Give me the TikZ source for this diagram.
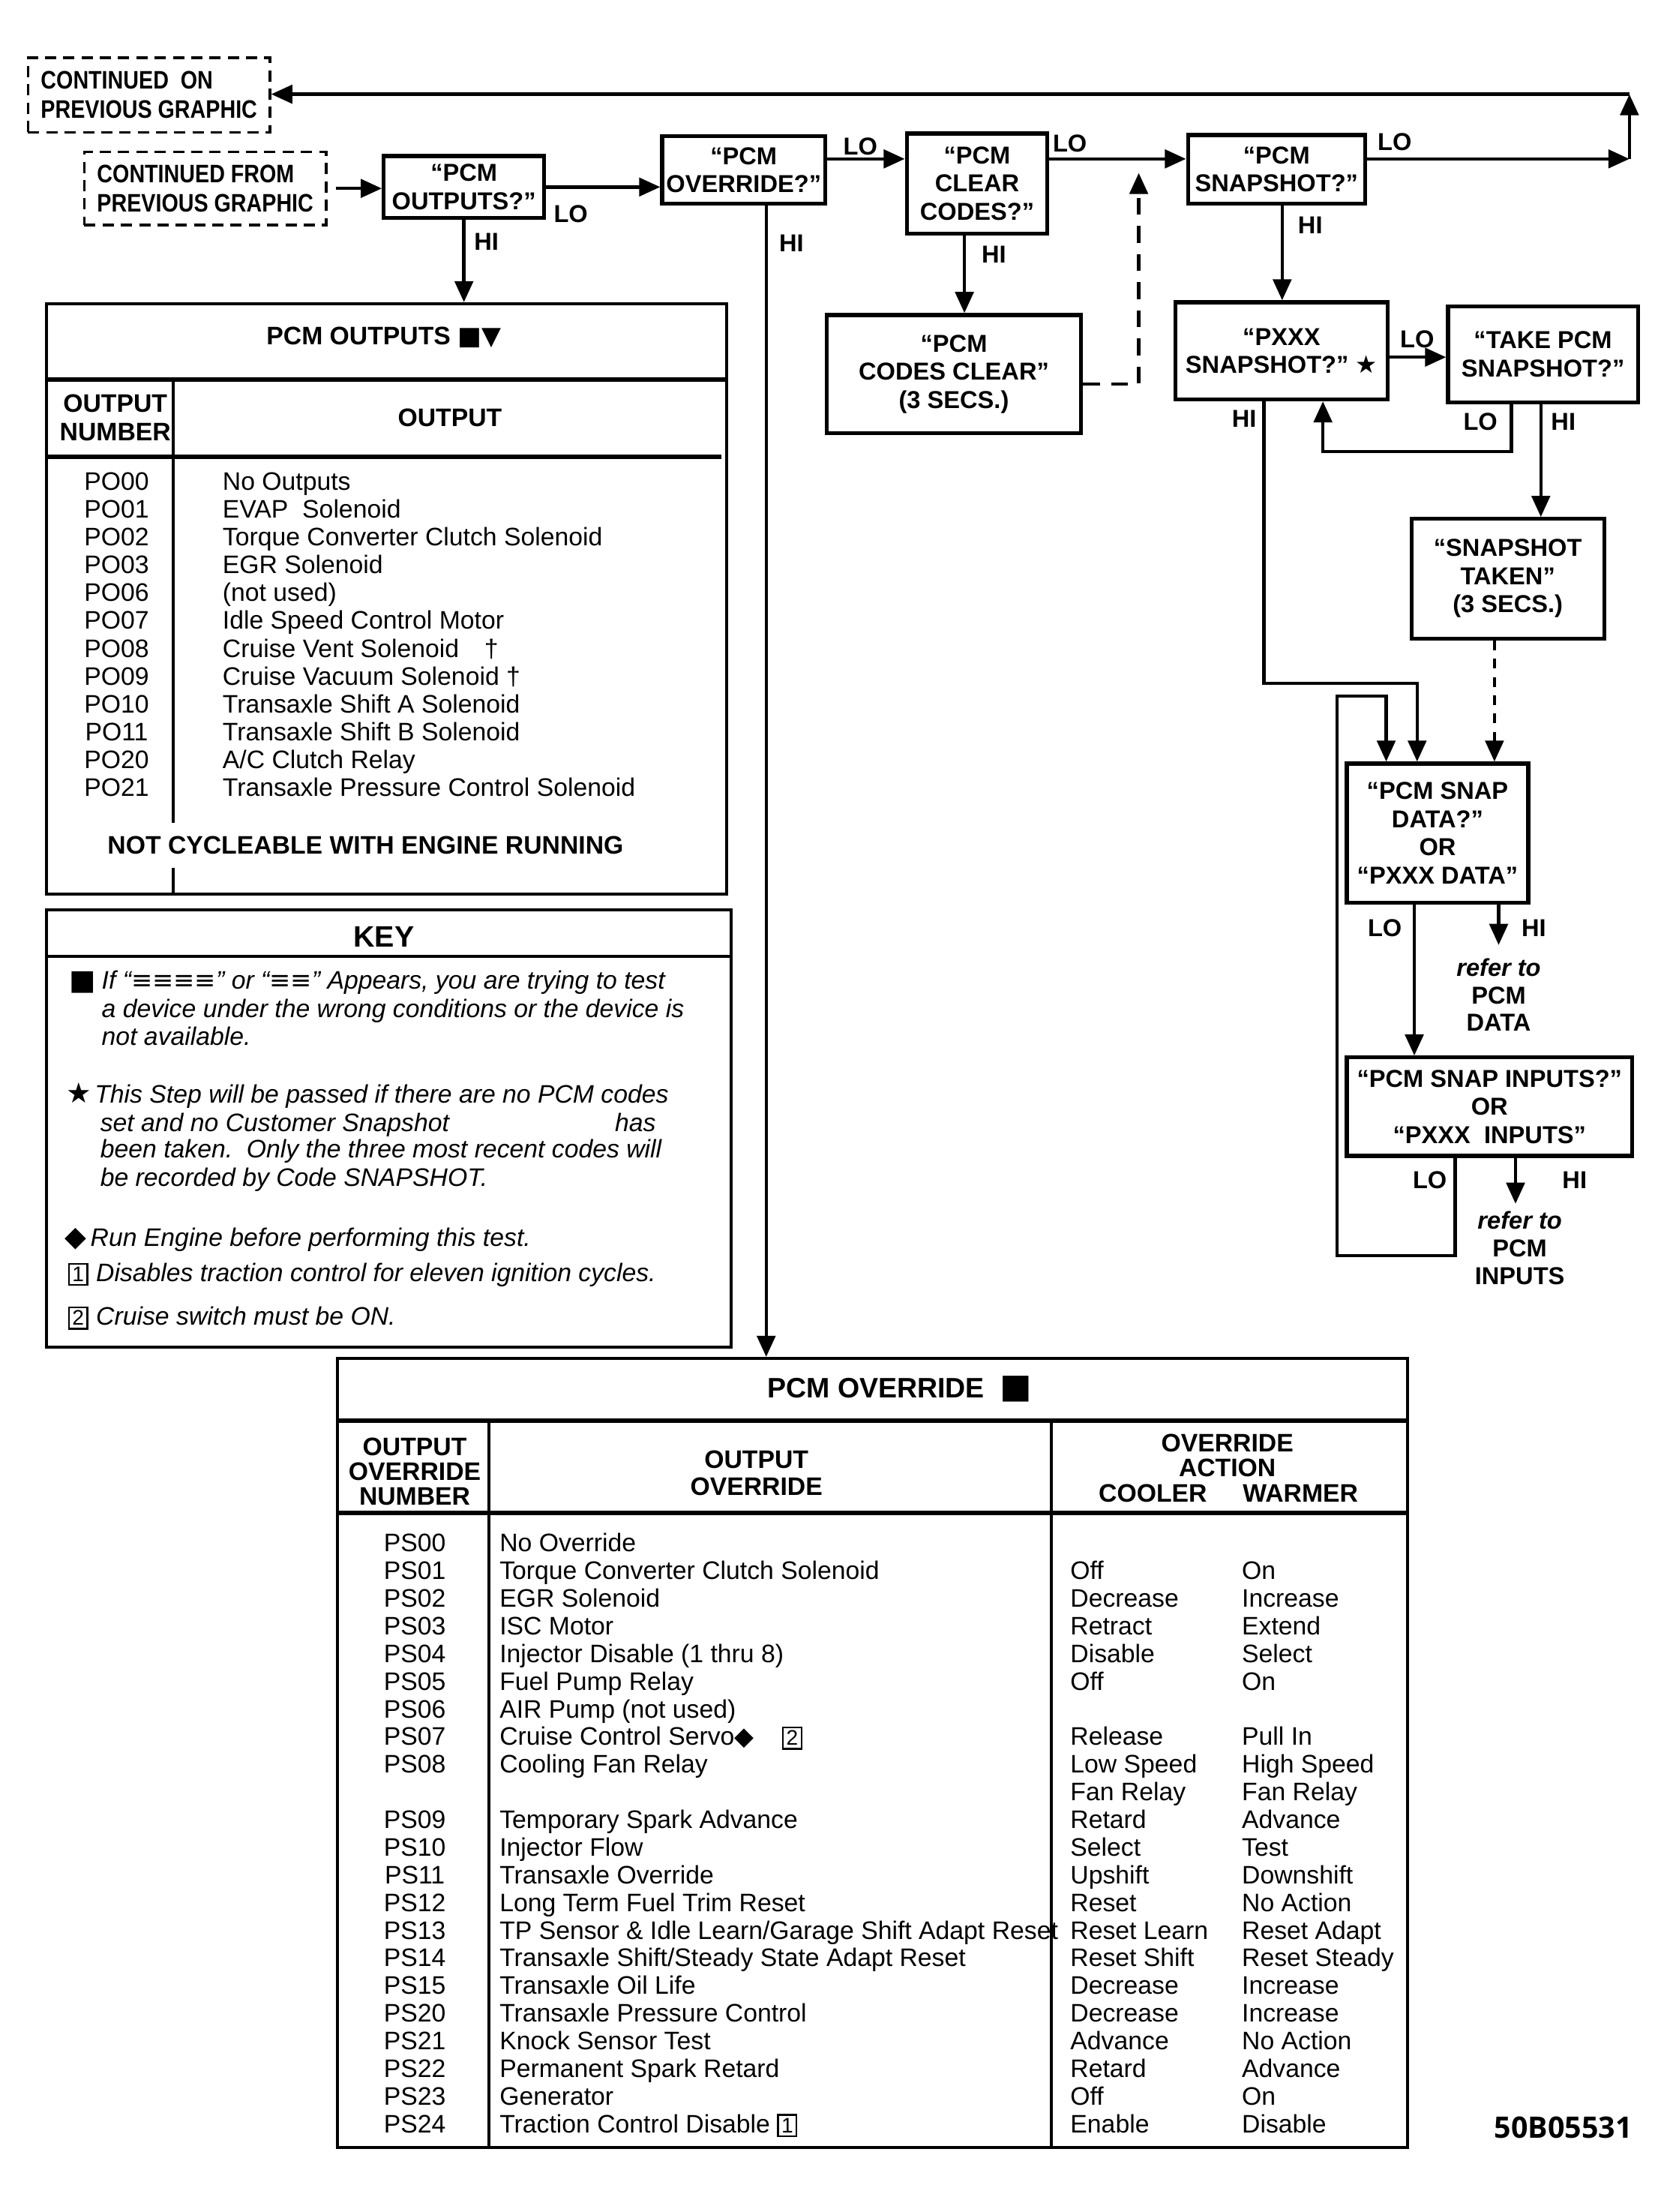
\documentclass[tikz,border=0pt]{standalone}
\usepackage{fontspec}
\setmainfont{Liberation Sans}
\newfontfamily\symf{DejaVu Sans}
\newfontfamily\contf[FakeStretch=0.85]{Liberation Sans}
\newfontfamily\idf{Open Sans}
\usetikzlibrary{arrows.meta}
\newcommand\bxnum[1]{{\setlength\fboxsep{0.9pt}\setlength\fboxrule{0.6pt}\fbox{\fontsize{7.5}{7.5}\selectfont\upshape #1}}}
\begin{document}
\begin{tikzpicture}[x=0.5pt,y=-0.5pt,
  conn/.style={line width=1.2pt},
  arr/.style={conn,-{Triangle[length=7.5pt,width=6.5pt]}},
  dashA/.style={dash pattern=on 6pt off 4pt},
  dashB/.style={dash pattern=on 3.5pt off 3pt},
  sz/.style 2 args={minimum width={#1*0.5pt},minimum height={#2*0.5pt}},
  flowbox/.style={draw,line width=1.4pt,align=center,inner sep=0pt,font=\bfseries\fontsize{8.7}{10}\selectfont},
  dbox/.style={draw,line width=0.9pt,dash pattern=on 4pt off 2.5pt,align=left,inner sep=0pt,font=\contf\bfseries\fontsize{9}{10.5}\selectfont},
  lbl/.style={font=\bfseries\fontsize{8.7}{10}\selectfont,inner sep=0pt},
  reftxt/.style={align=center,inner sep=0pt,font=\bfseries\fontsize{8.7}{9.75}\selectfont},
  tab/.style={draw,line width=1.1pt,inner sep=0pt},
  tline/.style={line width=1.6pt},
  vline/.style={line width=1.1pt},
  hdr/.style={align=center,inner sep=0pt,font=\bfseries\fontsize{9}{10}\selectfont},
  cell/.style={inner sep=0pt,font=\fontsize{9}{10}\selectfont},
  keytxt/.style={anchor=base west,inner sep=0pt,font=\itshape\fontsize{9}{10}\selectfont}
]
\fill[white] (0,0) rectangle (1190,1573);
\useasboundingbox (0,0) rectangle (1190,1573);

% ---------- flow boxes ----------
\node[dbox,sz={172}{53}] (contOn) at (106,67.5) {CONTINUED\ \ ON\\PREVIOUS GRAPHIC};
\node[dbox,sz={172}{52}] (contFrom) at (146,134) {CONTINUED FROM\\PREVIOUS GRAPHIC};
\node[flowbox,sz={114}{44}] (pcmOut) at (330,133) {“PCM\\OUTPUTS?”};
\node[flowbox,sz={116}{48}] (pcmOvr) at (529,121) {“PCM\\OVERRIDE?”};
\node[flowbox,sz={100}{71}] (clrCodes) at (695,130.5) {“PCM\\CLEAR\\CODES?”};
\node[flowbox,sz={181}{84}] (codesClr) at (678.5,266) {“PCM\\CODES CLEAR”\\(3 SECS.)};
\node[flowbox,sz={126}{49}] (snap) at (908,120.5) {“PCM\\SNAPSHOT?”};
\node[flowbox,sz={151}{69}] (pxxx) at (911.5,249.5) {“PXXX\\SNAPSHOT?” {\symf ★}};
\node[flowbox,sz={135}{68}] (take) at (1097.5,252) {“TAKE PCM\\SNAPSHOT?”};
\node[flowbox,sz={137}{85}] (taken) at (1072.5,411.5) {“SNAPSHOT\\TAKEN”\\(3 SECS.)};
\node[flowbox,sz={129}{99}] (sdata) at (1022.5,592.5) {“PCM SNAP\\DATA?”\\OR\\“PXXX DATA”};
\node[flowbox,sz={203}{70}] (sinp) at (1059.5,787) {“PCM SNAP INPUTS?”\\OR\\“PXXX\ \ INPUTS”};

% ---------- tables ----------
\node[tab,sz={484}{420}] (outTab) at (275,426) {};
\node[tab,sz={487}{311}] (keyBox) at (276.5,802.5) {};
\node[tab,sz={761}{561}] (ovrTab) at (620.5,1246.5) {};

% ---------- connectors ----------
\coordinate (y113) at (0,113);
\coordinate (x545) at (545,0);
\coordinate (x686) at (686,0);
\coordinate (x912) at (912,0);
\coordinate (y254) at (0,254);
\coordinate (x1096) at (1096,0);
\coordinate (x1063) at (1063,0);
\coordinate (x1006) at (1006,0);

\draw[arr,shorten <=3pt] (contFrom.east) -- (contFrom.east -| pcmOut.west);
\draw[arr] (pcmOut.east) -- (pcmOut.east -| pcmOvr.west);
\node[lbl] (loA) at (406,152) {LO};
\draw[arr] (pcmOut.south) -- (pcmOut.south |- outTab.north);
\node[lbl] (hiA) at (346,172) {HI};
\draw[arr] (pcmOvr.south -| x545) -- (ovrTab.north -| x545);
\node[lbl] (hiB) at (563,173) {HI};
\draw[arr] (pcmOvr.east |- y113) -- (clrCodes.west |- y113);
\node[lbl] (loB) at (612,104) {LO};
\draw[arr] (clrCodes.east |- y113) -- (snap.west |- y113);
\node[lbl] (loC) at (761,102) {LO};
\draw[arr] (clrCodes.south -| x686) -- (codesClr.north -| x686);
\node[lbl] (hiC) at (707,181) {HI};
\coordinate (dA) at (810,273);
\coordinate (dB) at (810,123);
\draw[arr,dashA] (codesClr.east |- dA) -- (dA) -- (dB);

\coordinate (cornerA) at (1159,113);
\coordinate (cornerB) at (1159,67);
\draw[arr] (snap.east |- y113) -- (cornerA);
\node[lbl] (loD) at (992,101) {LO};
\draw[arr] (cornerA) -- (cornerB);
\draw[arr] (cornerB) -- (cornerB -| contOn.east);

\draw[arr] (snap.south -| x912) -- (pxxx.north -| x912);
\node[lbl] (hiD) at (932,160) {HI};
\draw[arr] (pxxx.east |- y254) -- (take.west |- y254);
\node[lbl] (loE) at (1008,241) {LO};
\coordinate (lpA) at (1075,321);
\coordinate (lpB) at (941,321);
\draw[arr] (take.south -| lpA) -- (lpA) -- (lpB) -- (pxxx.south -| lpB);
\node[lbl] (loF) at (1053,300) {LO};
\draw[arr] (take.south -| x1096) -- (taken.north -| x1096);
\node[lbl] (hiE) at (1112,300) {HI};
\coordinate (hpA) at (899,486);
\coordinate (hpB) at (1008,486);
\draw[arr] (pxxx.south -| hpA) -- (hpA) -- (hpB) -- (sdata.north -| hpB);
\node[lbl] (hiF) at (885,298) {HI};
\draw[arr,dashB] (taken.south -| x1063) -- (sdata.north -| x1063);
\coordinate (rpA) at (1035,893);
\coordinate (rpB) at (951,893);
\coordinate (rpC) at (951,495);
\coordinate (rpD) at (986,495);
\draw[arr] (sinp.south -| rpA) -- (rpA) -- (rpB) -- (rpC) -- (rpD) -- (sdata.north -| rpD);
\node[lbl] (loG) at (1017,839) {LO};
\draw[arr] (sdata.south -| x1006) -- (sinp.north -| x1006);
\node[lbl] (loH) at (985,660) {LO};
\coordinate (refA) at (1066,672);
\draw[arr] (sdata.south -| refA) -- (refA);
\node[lbl] (hiG) at (1091,660) {HI};
\node[reftxt] (refData) at (1066,707.5) {\textit{refer to}\\PCM\\DATA};
\coordinate (refB) at (1078,856);
\draw[arr] (sinp.south -| refB) -- (refB);
\node[lbl] (hiH) at (1120,839) {HI};
\node[reftxt] (refInp) at (1081,887.5) {\textit{refer to}\\PCM\\INPUTS};

% ---------- PCM OUTPUTS table ----------
\draw[tline] (33,270) -- (517,270);
\draw[tline] (33,325) -- (513,325);
\draw[vline] (123,270) -- (123,585);
\draw[vline] (123,617) -- (123,636);
\node[inner sep=0pt,font=\bfseries\fontsize{9}{10}\selectfont] (outTitle) at (273,240) {PCM OUTPUTS {\symf ■▼}};
\node[hdr] (outHdrA) at (82,297) {OUTPUT\\NUMBER};
\node[hdr] (outHdrB) at (320,297) {OUTPUT};
\foreach \t [count=\i from 0] in {PO00,PO01,PO02,PO03,PO06,PO07,PO08,PO09,PO10,PO11,PO20,PO21}
  \node[cell,anchor=base] (pon\i) at (83,{348.5+\i*19.8}) {\t};
\foreach \t [count=\i from 0] in {No Outputs,EVAP\ \ Solenoid,Torque Converter Clutch Solenoid,EGR Solenoid,(not used),Idle Speed Control Motor,Cruise Vent Solenoid\hspace{9pt}†,Cruise Vacuum Solenoid †,Transaxle Shift A Solenoid,Transaxle Shift B Solenoid,A/C Clutch Relay,Transaxle Pressure Control Solenoid}
  \node[cell,anchor=base west] (pod\i) at (158,{348.5+\i*19.8}) {\t};
\node[inner sep=0pt,font=\bfseries\fontsize{9}{10}\selectfont] (notCyc) at (260,601) {NOT CYCLEABLE WITH ENGINE RUNNING};

% ---------- KEY ----------
\draw[vline] (33,680) -- (520,680);
\node[inner sep=0pt,font=\bfseries\fontsize{10.5}{12}\selectfont] (keyTitle) at (273,666) {KEY};
\node[keytxt,font=\symf\fontsize{10}{12}\selectfont] (k1s) at (49,704) {■};
\node[keytxt] (k1a) at (72,703.5) {If “{\symf\upshape ≡≡≡≡}” or “{\symf\upshape ≡≡}” Appears, you are trying to test};
\node[keytxt] (k1b) at (72,723.5) {a device under the wrong conditions or the device is};
\node[keytxt] (k1c) at (72,743.5) {not available.};
\node[keytxt,font=\symf\fontsize{10}{12}\selectfont] (k2s) at (47,784.5) {★};
\node[keytxt] (k2a) at (67,784.5) {This Step will be passed if there are no PCM codes};
\node[keytxt] (k2b) at (71,804.5) {\makebox[183pt][l]{set and no Customer Snapshot}has};
\node[keytxt] (k2c) at (71,823.5) {been taken.\ \ Only the three most recent codes will};
\node[keytxt] (k2d) at (71,843.5) {be recorded by Code SNAPSHOT.};
\node[keytxt,font=\symf\fontsize{10}{12}\selectfont] (k3s) at (46,886.5) {◆};
\node[keytxt] (k3a) at (64,886.5) {Run Engine before performing this test.};
\node[keytxt] (k4s) at (48,911.5) {\bxnum{1}};
\node[keytxt] (k4a) at (68,911.5) {Disables traction control for eleven ignition cycles.};
\node[keytxt] (k5s) at (48,942.5) {\bxnum{2}};
\node[keytxt] (k5a) at (68,942.5) {Cruise switch must be ON.};

% ---------- PCM OVERRIDE table ----------
\draw[tline] (240,1010) -- (1001,1010);
\draw[tline] (240,1076) -- (1001,1076);
\draw[vline] (348,1010) -- (348,1527);
\draw[vline] (748,1010) -- (748,1527);
\node[inner sep=0pt,font=\bfseries\fontsize{10}{12}\selectfont] (ovrTitle) at (640,988) {PCM OVERRIDE\ \ {\symf\fontsize{12}{12}\selectfont ■}};
\node[hdr,font=\bfseries\fontsize{9}{8.75}\selectfont] (ovrHdrA) at (295,1046.5) {OUTPUT\\OVERRIDE\\NUMBER};
\node[hdr,font=\bfseries\fontsize{9}{9.5}\selectfont] (ovrHdrB) at (538,1047.5) {OUTPUT\\OVERRIDE};
\node[hdr,font=\bfseries\fontsize{9}{9}\selectfont] (ovrHdrC) at (873,1035) {OVERRIDE\\ACTION};
\node[hdr] (ovrHdrD) at (820,1062) {COOLER};
\node[hdr] (ovrHdrE) at (925,1062) {WARMER};
\foreach \t [count=\i from 0] in {PS00,PS01,PS02,PS03,PS04,PS05,PS06,PS07,PS08,{},PS09,PS10,PS11,PS12,PS13,PS14,PS15,PS20,PS21,PS22,PS23,PS24}
  \node[cell,anchor=base] (ovn\i) at (295,{1103.5+\i*19.67}) {\t};
\foreach \t [count=\i from 0] in {No Override,Torque Converter Clutch Solenoid,EGR Solenoid,ISC Motor,Injector Disable (1 thru 8),Fuel Pump Relay,AIR Pump (not used),Cruise Control Servo{\symf ◆}\hspace{10pt}\bxnum{2},Cooling Fan Relay,{},Temporary Spark Advance,Injector Flow,Transaxle Override,Long Term Fuel Trim Reset,TP Sensor \& Idle Learn/Garage Shift Adapt Reset,Transaxle Shift/Steady State Adapt Reset,Transaxle Oil Life,Transaxle Pressure Control,Knock Sensor Test,Permanent Spark Retard,Generator,Traction Control Disable \bxnum{1}}
  \node[cell,anchor=base west] (ovd\i) at (355,{1103.5+\i*19.67}) {\t};
\foreach \t [count=\i from 0] in {{},Off,Decrease,Retract,Disable,Off,{},Release,Low Speed,Fan Relay,Retard,Select,Upshift,Reset,Reset Learn,Reset Shift,Decrease,Decrease,Advance,Retard,Off,Enable}
  \node[cell,anchor=base west] (ovc\i) at (761,{1103.5+\i*19.67}) {\t};
\foreach \t [count=\i from 0] in {{},On,Increase,Extend,Select,On,{},Pull In,High Speed,Fan Relay,Advance,Test,Downshift,No Action,Reset Adapt,Reset Steady,Increase,Increase,No Action,Advance,On,Disable}
  \node[cell,anchor=base west] (ovw\i) at (883,{1103.5+\i*19.67}) {\t};

\node[inner sep=0pt,font=\idf\bfseries\fontsize{10.5}{12}\selectfont] (figId) at (1112,1513) {50B05531};
\end{tikzpicture}
\end{document}
